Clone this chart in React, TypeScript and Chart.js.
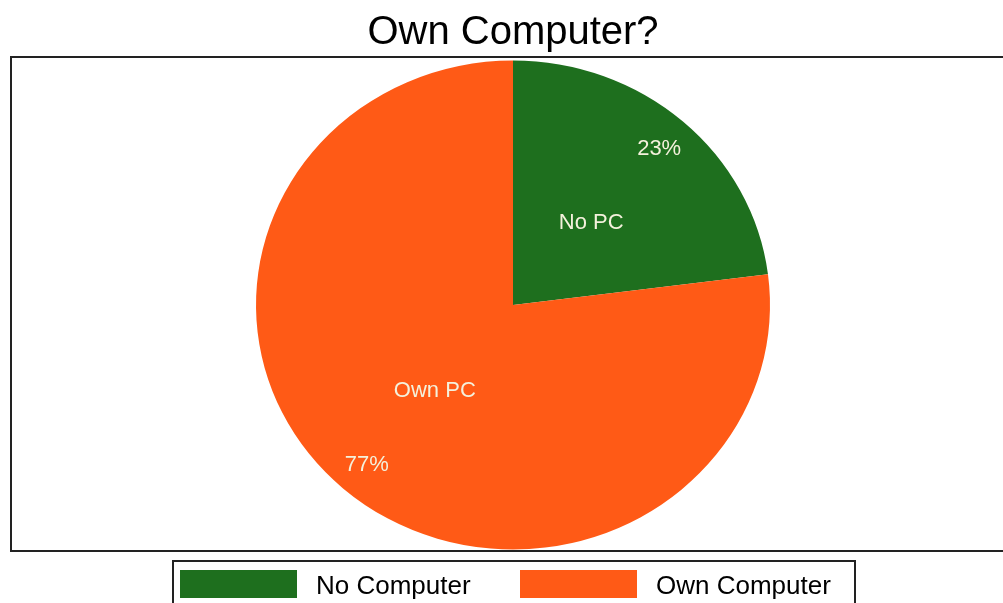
import React, { useEffect, useRef } from "react";
import { Chart, registerables } from "chart.js";

Chart.register(...registerables);

const TITLE = "Own Computer?";
const categories = ["No Computer", "Own Computer"];
const sliceLabels = ["No PC", "Own PC"];
const values = [23, 77];
const percentLabels = ["23%", "77%"];
const colors = ["#1e6f1e", "#ff5a16"];

const SX = 1.028;
const SY = 0.978;

const framePlugin = {
  id: "frame",
  beforeDatasetsDraw(chart: any) {
    const ctx = chart.ctx;
    const meta = chart.getDatasetMeta(0);
    const el = meta.data[0];
    ctx.save();
    ctx.translate(el.x, el.y);
    ctx.scale(SX, SY);
    ctx.translate(-el.x, -el.y);
  },
  afterDatasetsDraw(chart: any) {
    const ctx = chart.ctx;
    ctx.restore();
    const meta = chart.getDatasetMeta(0);
    ctx.save();
    ctx.fillStyle = "#f4f1dc";
    ctx.textAlign = "center";
    ctx.textBaseline = "middle";
    ctx.font = "22px Arial, 'Liberation Sans', sans-serif";
    meta.data.forEach((arc: any, i: number) => {
      const mid = (arc.startAngle + arc.endAngle) / 2;
      const r = arc.outerRadius;
      const nx = arc.x + Math.cos(mid) * r * 0.46 * SX;
      const ny = arc.y + Math.sin(mid) * r * 0.46 * SY;
      const px = arc.x + Math.cos(mid) * r * 0.86 * SX;
      const py = arc.y + Math.sin(mid) * r * 0.86 * SY;
      ctx.fillText(sliceLabels[i], nx, ny + 2);
      ctx.fillText(percentLabels[i], px, py + 2);
    });
    ctx.restore();
  },
  afterDraw(chart: any) {
    const ctx = chart.ctx;
    ctx.save();
    ctx.fillStyle = "#000";
    ctx.textAlign = "center";
    ctx.textBaseline = "alphabetic";
    ctx.font = "40px Arial, 'Liberation Sans', sans-serif";
    ctx.fillText(TITLE, 513, 44);
    ctx.strokeStyle = "#222";
    ctx.lineWidth = 2;
    ctx.strokeRect(11, 57, 1000, 494);
    ctx.strokeRect(173, 561, 682, 60);
    ctx.font = "26px Arial, 'Liberation Sans', sans-serif";
    ctx.textBaseline = "middle";
    ctx.textAlign = "left";
    const xs = [180, 520];
    categories.forEach((c, i) => {
      ctx.fillStyle = colors[i];
      ctx.fillRect(xs[i], 570, 117, 28);
      ctx.fillStyle = "#000";
      ctx.fillText(c, xs[i] + 136, 587);
    });
    ctx.restore();
  },
};

export default function App() {
  const ref = useRef<HTMLCanvasElement | null>(null);
  useEffect(() => {
    if (!ref.current) return;
    const chart = new Chart(ref.current, {
      type: "pie",
      data: {
        labels: categories,
        datasets: [
          {
            data: values,
            backgroundColor: colors,
            borderWidth: 0,
          },
        ],
      },
      options: {
        animation: false,
        responsive: false,
        layout: { padding: { left: 23, right: 0, top: 55, bottom: 48 } },
        plugins: {
          legend: { display: false },
          title: { display: false },
          tooltip: { enabled: false },
        },
      },
      plugins: [framePlugin],
    });
    return () => chart.destroy();
  }, []);
  return (
    <div style={{ position: "absolute", left: 0, top: 0, width: 1003, height: 603, background: "#fff" }}>
      <canvas ref={ref} width={1003} height={603} style={{ display: "block" }} />
    </div>
  );
}
